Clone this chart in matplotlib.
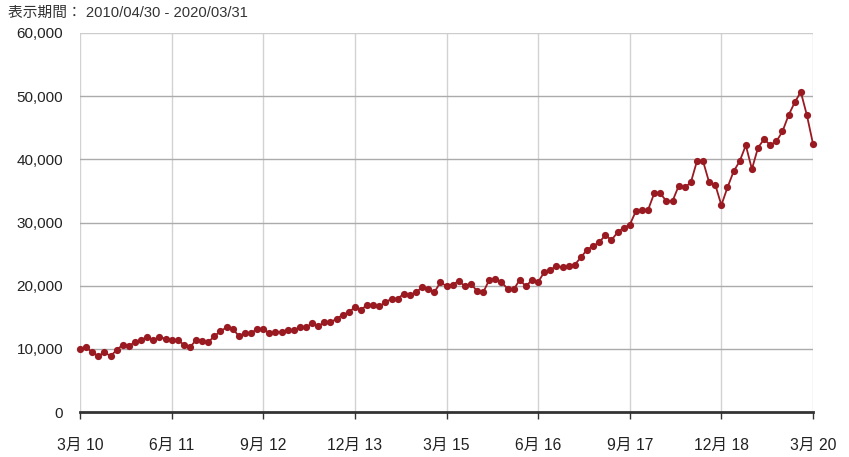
import matplotlib
matplotlib.use("Agg")
import matplotlib.pyplot as plt
from matplotlib.ticker import FuncFormatter

values = [10000, 10250, 9450, 8860, 9450, 8860, 9800, 10650, 10500, 11030,
          11400, 11870, 11400, 11870, 11600, 11440, 11400, 10650, 10250, 11400,
          11230, 11050, 12030, 12780, 13400, 13180, 12030, 12450, 12450, 13180,
          13180, 12450, 12660, 12660, 13020, 12970, 13400, 13400, 14030, 13610,
          14190, 14190, 14760, 15350, 15780, 16600, 16200, 16930, 16930, 16720,
          17360, 17930, 17930, 18720, 18510, 18940, 19730, 19510, 18940, 20520,
          19940, 20140, 20730, 19940, 20300, 19150, 18940, 20900, 21120, 20550,
          19510, 19410, 20930, 19890, 20930, 20570, 22150, 22520, 23100, 22900,
          23100, 23310, 24480, 25680, 26270, 26850, 28010, 27220, 28430, 29160,
          29640, 31780, 31980, 32000, 34600, 34600, 33390, 33390, 35760, 35550,
          36340, 39710, 39710, 36340, 35970, 32750, 35550, 38080, 39710, 42220,
          38450, 41850, 43200, 42250, 42830, 44410, 46990, 49000, 50680, 46990,
          42450]
tick_labels = ["3月 10", "6月 11", "9月 12", "12月 13", "3月 15",
               "6月 16", "9月 17", "12月 18", "3月 20"]
y_ticks = [0, 10000, 20000, 30000, 40000, 50000, 60000]
title_text = "表示期間： 2010/04/30 - 2020/03/31"

fam = ["Liberation Sans", "Noto Sans CJK JP", "DejaVu Sans"]
plt.rcParams["font.family"] = fam

fig = plt.figure(figsize=(8.49, 4.57), dpi=100)
ax = fig.add_axes([80 / 849, 1 - 412 / 457, (813 - 80) / 849, (412 - 33) / 457])

x = list(range(len(values)))
ax.plot(x, values, color="#9a1a22", linewidth=1.3, marker="o",
        markersize=5.2, markeredgewidth=0, zorder=3, clip_on=False)

ax.set_xlim(0, 120)
ax.set_ylim(0, 60000)
tick_pos = [i * 15 for i in range(len(tick_labels))]
ax.set_xticks(tick_pos)
ax.set_xticklabels(tick_labels)
ax.set_yticks(y_ticks)
ax.yaxis.set_major_formatter(FuncFormatter(lambda v, p: f"{int(v):,}"))

for v in y_ticks[1:]:
    ax.axhline(v, color="#ababab" if v < 60000 else "#cccccc", linewidth=1.0, zorder=1)
for t in tick_pos:
    ax.axvline(t, color="#d2d2d2", linewidth=1.0, zorder=0)

for s in ["top", "right", "left"]:
    ax.spines[s].set_visible(False)
ax.spines["bottom"].set_color("#333333")
ax.spines["bottom"].set_linewidth(2.0)
ax.spines["bottom"].set_zorder(4)

ax.tick_params(axis="y", length=0, pad=12, labelsize=11, labelcolor="#222222")
ax.tick_params(axis="x", length=5, width=1, color="#333333", pad=14,
               labelsize=11.3, labelcolor="#222222", direction="out")

fig.text(8 / 849, 1 - 13 / 457, title_text, fontsize=10.6, color="#333333",
         va="center", ha="left")

fig.savefig("out.png", dpi=100)
